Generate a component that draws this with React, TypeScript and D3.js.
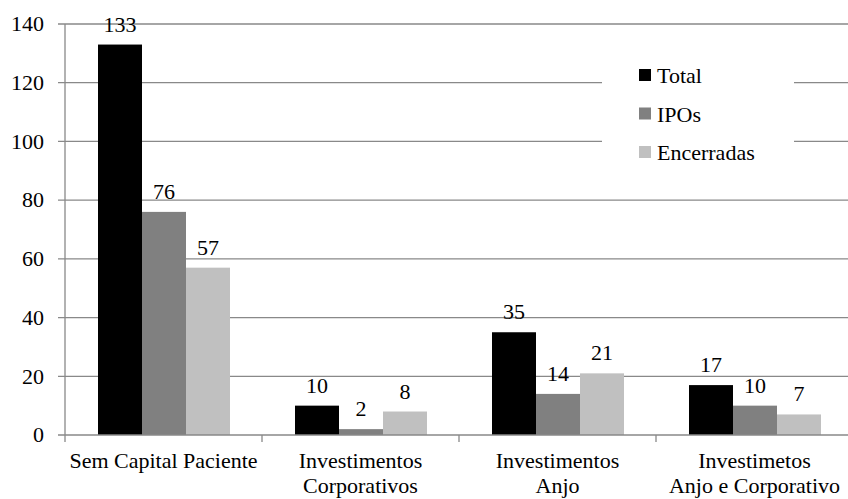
import { useEffect, useRef } from "react";
import * as d3 from "d3";

const categories = [
  ["Sem Capital Paciente"],
  ["Investimentos", "Corporativos"],
  ["Investimentos", "Anjo"],
  ["Investimetos", "Anjo e Corporativo"],
];
const seriesNames = ["Total", "IPOs", "Encerradas"];
const seriesColors = ["#000000", "#808080", "#c0c0c0"];
const totalValues = [133, 10, 35, 17];
const ipoValues = [76, 2, 14, 10];
const closedValues = [57, 8, 21, 7];
const yTicks = [0, 20, 40, 60, 80, 100, 120, 140];

export default function App() {
  const svgRef = useRef<SVGSVGElement>(null);

  useEffect(() => {
    if (!svgRef.current) return;
    const svg = d3.select(svgRef.current);
    svg.selectAll("*").remove();

    const fontSize = 22;
    const gridColor = "#898989";

    const left = 65;
    const bandW = 197;
    const top = 24;
    const bottom = 435;

    const keys = categories.map((c) => c.join(" "));
    const series = [totalValues, ipoValues, closedValues];

    const x0 = d3.scaleBand<string>()
      .domain(keys)
      .range([left, left + bandW * keys.length])
      .padding(0);

    const x1 = d3.scaleBand<string>()
      .domain(seriesNames)
      .range([33, bandW - 32])
      .padding(0);

    const y = d3.scaleLinear().domain([0, 140]).range([bottom, top]);

    const root = svg.append("g")
      .style("font-family", '"Liberation Serif", "Times New Roman", Times, "DejaVu Serif", "Noto Serif", serif')
      .attr("font-size", fontSize)
      .attr("fill", "#000");

    // gridlines
    root.append("g")
      .selectAll("line")
      .data(yTicks.filter((t) => t > 0))
      .join("line")
      .attr("x1", left - 7)
      .attr("x2", left + bandW * keys.length)
      .attr("y1", (d) => y(d))
      .attr("y2", (d) => y(d))
      .attr("stroke", gridColor)
      .attr("stroke-width", 1.3);

    // y axis line + labels
    root.append("line")
      .attr("x1", left).attr("x2", left)
      .attr("y1", y(140)).attr("y2", y(0))
      .attr("stroke", gridColor).attr("stroke-width", 1.3);

    root.append("g")
      .selectAll("text")
      .data(yTicks)
      .join("text")
      .attr("x", 44)
      .attr("y", (d) => y(d))
      .attr("dy", "0.33em")
      .attr("text-anchor", "end")
      .text((d) => d);

    // bars
    const groups = root.append("g")
      .selectAll("g")
      .data(keys)
      .join("g")
      .attr("transform", (d) => `translate(${x0(d)},0)`);

    groups.each(function (_key, ci) {
      const g = d3.select(this);
      seriesNames.forEach((name, si) => {
        const v = series[si][ci];
        const bx = x1(name)!;
        g.append("rect")
          .attr("x", bx)
          .attr("y", y(v))
          .attr("width", x1.bandwidth())
          .attr("height", y(0) - y(v))
          .attr("fill", seriesColors[si]);
        g.append("text")
          .attr("x", bx + x1.bandwidth() / 2)
          .attr("y", y(v) - 13)
          .attr("text-anchor", "middle")
          .text(v);
      });
    });

    // x axis line + ticks
    root.append("line")
      .attr("x1", left - 7).attr("x2", left + bandW * keys.length)
      .attr("y1", y(0)).attr("y2", y(0))
      .attr("stroke", gridColor).attr("stroke-width", 1.3);

    root.append("g")
      .selectAll("line")
      .data(d3.range(keys.length + 1))
      .join("line")
      .attr("x1", (i) => left + i * bandW)
      .attr("x2", (i) => left + i * bandW)
      .attr("y1", y(0))
      .attr("y2", y(0) + 7)
      .attr("stroke", gridColor)
      .attr("stroke-width", 1.3);

    // category labels
    categories.forEach((lines, ci) => {
      const cx = x0(keys[ci])! + x0.bandwidth() / 2;
      lines.forEach((line, li) => {
        root.append("text")
          .attr("x", cx)
          .attr("y", 468 + li * 25)
          .attr("text-anchor", "middle")
          .text(line);
      });
    });

    // legend
    const legend = root.append("g");
    legend.append("rect")
      .attr("x", 602).attr("y", 52)
      .attr("width", 192).attr("height", 126)
      .attr("fill", "#fff");
    seriesNames.forEach((name, i) => {
      const ly = 83 + i * 38.5;
      legend.append("rect")
        .attr("x", 639).attr("y", ly - 14)
        .attr("width", 12).attr("height", 12)
        .attr("fill", seriesColors[i]);
      legend.append("text")
        .attr("x", 657).attr("y", ly)
        .text(name);
    });
  }, []);

  return (
    <svg
      ref={svgRef}
      width={848}
      height={499}
      style={{ position: "absolute", left: 0, top: 0, background: "#fff", display: "block" }}
    />
  );
}
